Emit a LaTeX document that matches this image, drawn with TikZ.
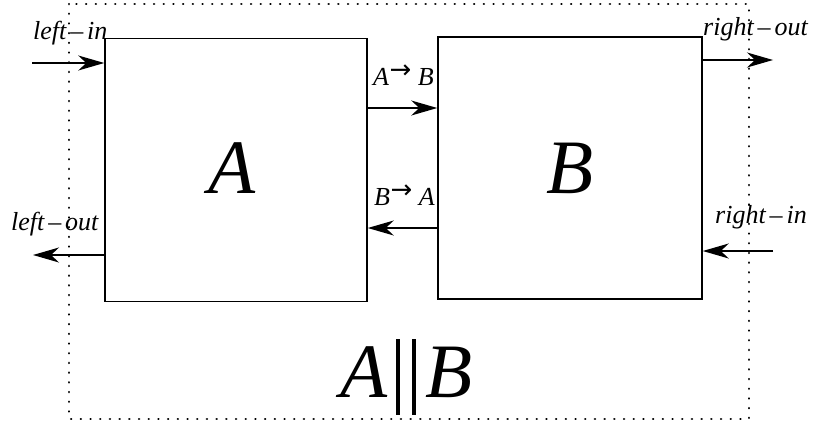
\documentclass[tikz,border=0pt]{standalone}
\usepackage{fontspec}
\setmainfont{Liberation Serif}
\newfontfamily\dvfont{DejaVu Sans}
\usetikzlibrary{arrows.meta}
\newcommand\dsh{\kern0.15em\textendash\kern0.15em}
\newcommand\smarr{\kern0.02em\raisebox{0.25em}{\dvfont\fontsize{26}{26}\selectfont →}\kern0.25em}
\begin{document}
\begin{tikzpicture}[x=1pt,y=-1pt,
  blk/.style={draw,line width=1.5pt,rectangle,inner sep=0pt},
  arr/.style={line width=1.4pt,-{Stealth[length=26pt,width=15pt,inset=8pt]}},
  lbl/.style={font=\fontsize{26}{26}\selectfont\itshape,inner sep=0pt,anchor=base west},
  big/.style={font=\fontsize{77}{77}\selectfont\itshape,inner sep=0pt},
  dotbox/.style={line width=2.5pt,dash pattern=on 0.1pt off 9.6pt,line cap=round}]
\useasboundingbox (0,0) rectangle (816,423);
\draw[dotbox] (69,4) rectangle (749,419);
\node[blk,minimum width=262pt,minimum height=263pt] (A) at (236,170) {};
\node[blk,minimum width=264pt,minimum height=262pt] (B) at (570,168) {};
\node[big,anchor=base] (tA) at (232,193) {A};
\node[big,anchor=base] (tB) at (570,193) {B};
% inputs/outputs
\coordinate (li) at (32,63);
\coordinate (lo) at (33,255);
\coordinate (ro) at (773,60);
\coordinate (ri) at (773,251);
\coordinate (ab) at (0,108);
\coordinate (ba) at (0,228);
\draw[arr] (li) -- (A.west |- li);
\draw[arr] (A.west |- lo) -- (lo);
\draw[arr] (B.east |- ro) -- (ro);
\draw[arr] (ri) -- (B.east |- ri);
\draw[arr] (A.east |- ab) -- (B.west |- ab);
\draw[arr] (B.west |- ba) -- (A.east |- ba);
% labels
\node[lbl] (lin) at (33,39) {left\dsh in};
\node[lbl] (lout) at (11,230) {left\dsh out};
\node[lbl] (rout) at (703,35) {right\dsh out};
\node[lbl] (rin) at (715,223) {right\dsh in};
\node[lbl] (lab) at (373,85) {A\smarr B};
\node[lbl] (lba) at (374,205) {B\smarr A};
% A||B
\node[big,anchor=base west] (pA) at (340,397) {A};
\node[big,anchor=base west] (pB) at (425,397) {B};
\draw[line width=4pt] (398,339) -- (398,415);
\draw[line width=4pt] (414,339) -- (414,415);
\end{tikzpicture}
\end{document}
